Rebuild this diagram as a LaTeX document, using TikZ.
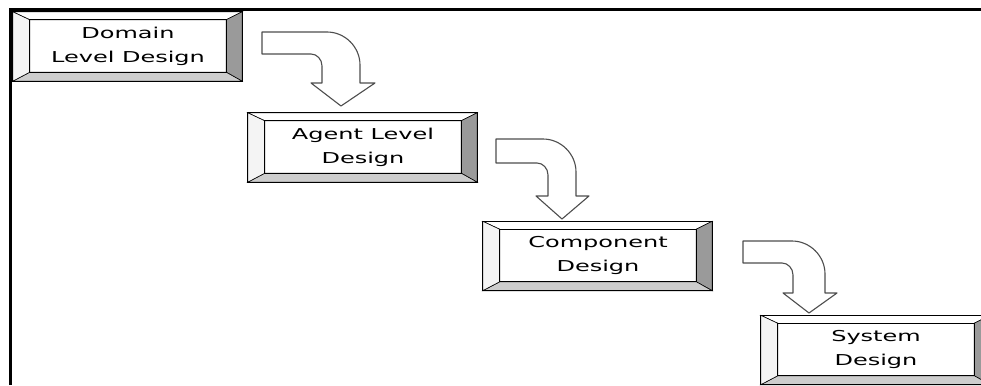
\documentclass[tikz,border=0pt]{standalone}
\usepackage{fontspec}
\newfontfamily\stagefont[FakeStretch=1.6]{DejaVu Sans}
\usetikzlibrary{calc}
\definecolor{bevelright}{HTML}{9A9A9A}
\definecolor{bevelbottom}{HTML}{CDCDCD}
\definecolor{bevelleft}{HTML}{F4F4F4}
\definecolor{arrowline}{HTML}{4D4D4D}
\tikzset{
  stage/.style={minimum width=196pt, minimum height=52pt, inner sep=0pt,
    align=center, font=\stagefont\fontsize{15}{24}\selectfont},
  bevel/.style={draw=black, line width=0.6pt},
  flowarrow/.style={draw=arrowline, fill=white, line width=1.1pt, line join=round}
}
% bent arrow: x0, ytop, ybot, xleft, xright, yhead, headleft, headright, ytip
\newcommand{\bendarrow}[9]{%
  \draw[flowarrow] (#1,#2) -- (#5-33,#2)
    .. controls +(18,0) and +(0,-18) .. (#5,#2+33) -- (#5,#6) -- (#8,#6)
    -- ({(#4+#5)/2},#9) -- (#7,#6) -- (#4,#6) -- (#4,#3+12)
    .. controls +(0,-6.6) and +(6,0) .. (#4-11,#3) -- (#1,#3) -- cycle;}

\begin{document}
\begin{tikzpicture}[x=1pt, y=-1pt]
  \clip (0,0) rectangle (981,385);
  % Stages with bevelled frames
  \foreach \n/\x/\y/\t in {dom/128/46/{Domain\\Level Design},
      agent/363/147/{Agent Level\\Design}, comp/598/255.5/{Component\\Design},
      sys/876/349.5/{System\\Design}} {
    \node[stage] (\n) at (\x,\y) {\t};
    \coordinate (\n-nw) at ($(\n.north west)+(-17,-8)$);
    \coordinate (\n-ne) at ($(\n.north east)+(16,-8)$);
    \coordinate (\n-se) at ($(\n.south east)+(16,9)$);
    \coordinate (\n-sw) at ($(\n.south west)+(-17,9)$);
    \draw[bevel, fill=white] (\n-nw) -- (\n-ne) -- (\n.north east) -- (\n.north west) -- cycle;
    \draw[bevel, fill=bevelright] (\n-ne) -- (\n-se) -- (\n.south east) -- (\n.north east) -- cycle;
    \draw[bevel, fill=bevelbottom] (\n-se) -- (\n-sw) -- (\n.south west) -- (\n.south east) -- cycle;
    \draw[bevel, fill=bevelleft] (\n-sw) -- (\n-nw) -- (\n.north west) -- (\n.south west) -- cycle;
    \draw[line width=1pt] (\n-nw) rectangle (\n-se);
    \draw[line width=1.3pt] (\n.north west) rectangle (\n.south east);
  }
  % Arrows between stages
  \bendarrow{262}{32}{54}{322}{360}{83}{311}{375}{106}
  \bendarrow{496}{139}{163}{548}{576}{196}{536}{589}{219}
  \bendarrow{743}{241}{263}{793}{825}{293}{783}{837}{313}
  % Frame
  \draw[line width=3pt] (10,385) -- (10,10) -- (981,10);
\end{tikzpicture}
\end{document}
